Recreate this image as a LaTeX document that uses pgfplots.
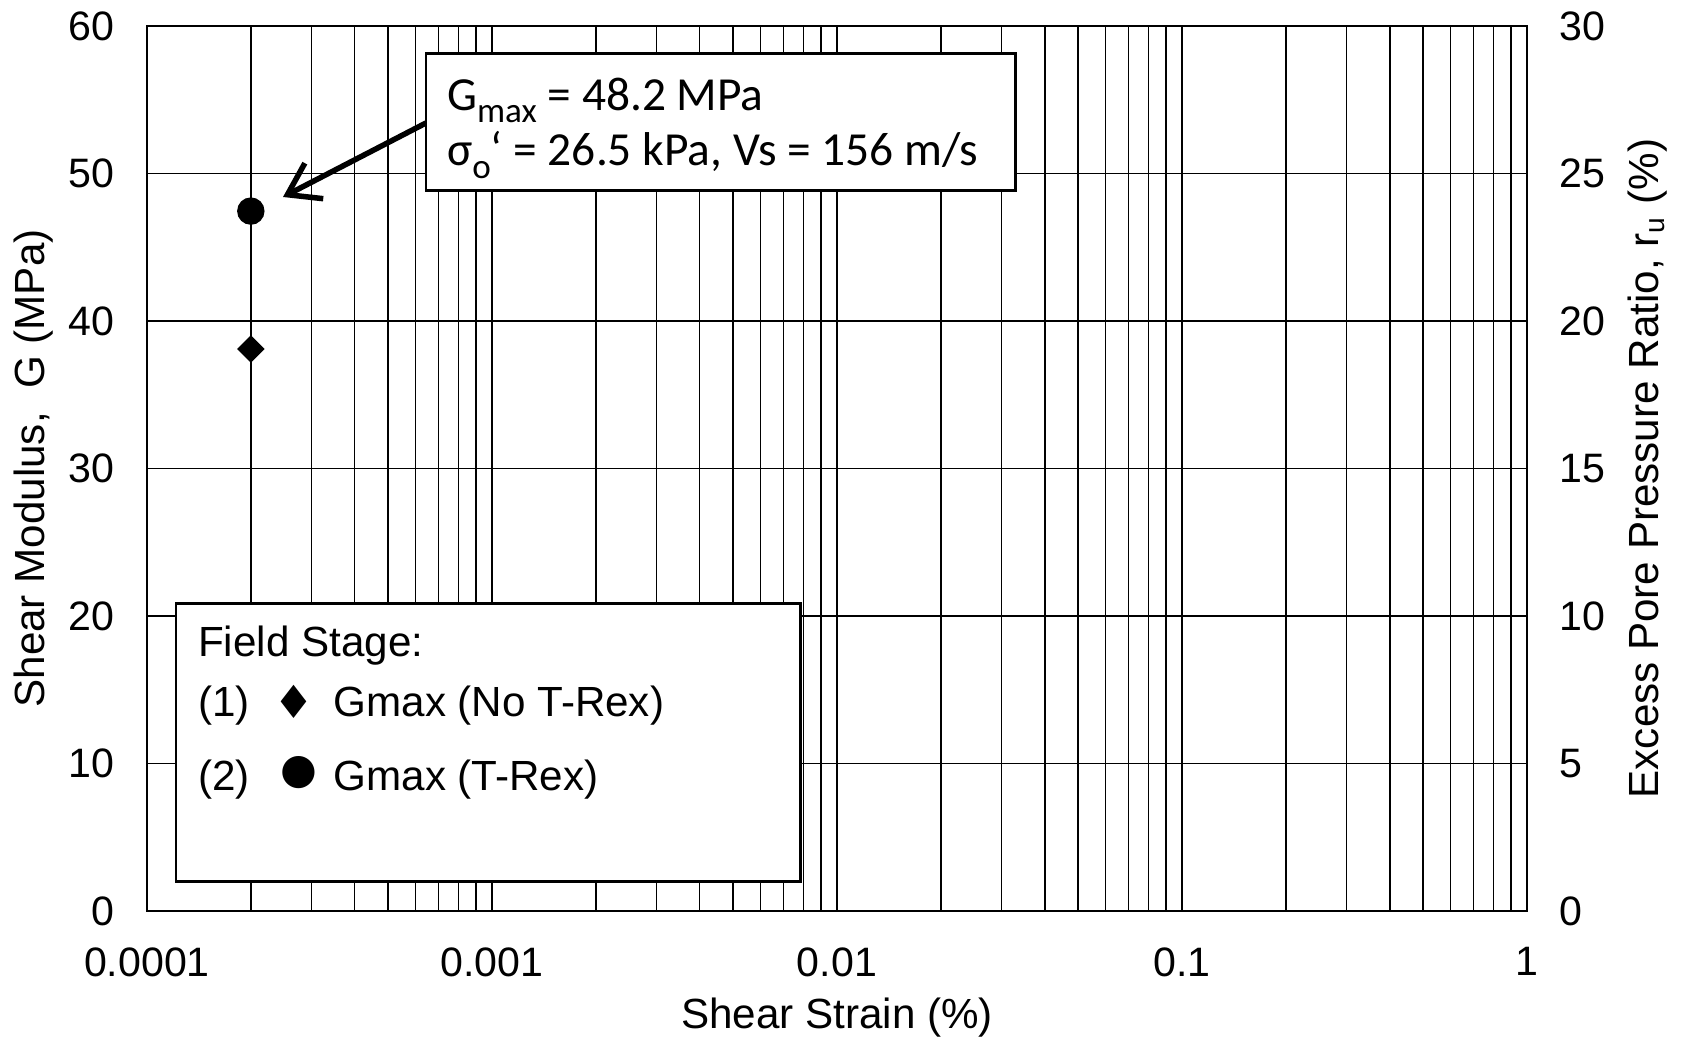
\documentclass[border=0pt]{standalone}
\usepackage{pgfplots}
\pgfplotsset{compat=1.18}
\usepackage{fontspec}
\setmainfont{Liberation Sans}
\newfontfamily\calibri{Carlito}
\newfontfamily\symfont{DejaVu Sans}
\usetikzlibrary{arrows.meta}

\begin{document}
\begin{tikzpicture}
\path[use as bounding box] (-14.7mm,-12.9mm) rectangle (153.6mm,91.1mm);
\begin{axis}[
  at={(0,0)}, anchor=south west,
  scale only axis, width=138mm, height=88.5mm,
  xmode=log, xmin=1e-4, xmax=1, ymin=0, ymax=60,
  ytick distance=10,
  xtick={0.0001,0.001,0.01,0.1,1},
  xticklabels={0.0001,0.001,0.01,0.1,1},
  grid=both,
  major grid style={black, line width=0.45pt},
  minor grid style={black, line width=0.45pt},
  tick style={draw=none},
  axis line style={black, line width=0.6pt},
  /pgf/number format/assume math mode=true,
  tick label style={font=\fontsize{11.7}{13}\selectfont},
  yticklabel style={xshift=-2mm},
  xticklabel style={yshift=-2.4mm},
  label style={font=\fontsize{12}{14}\selectfont},
  xlabel={Shear Strain (\%)},
  ylabel={Shear Modulus,\ \ G (MPa)},
  x label style={at={(axis description cs:0.5,-0.1203)}, anchor=center},
  y label style={at={(axis description cs:-0.0820,0.5)}, anchor=center},
]
\addplot[only marks, mark=square*, mark options={rotate=45, fill=black}, mark size=0.9mm] coordinates {(0.0002,38.1)};
\addplot[only marks, mark=*, mark options={fill=black}, mark size=1.3mm] coordinates {(0.0002,47.45)};
\end{axis}
\begin{axis}[
  at={(0,0)}, anchor=south west,
  scale only axis, width=138mm, height=88.5mm,
  xmode=log, xmin=1e-4, xmax=1, ymin=0, ymax=30,
  ytick distance=5,
  axis y line*=right, axis x line=none,
  tick style={draw=none},
  axis line style={black, line width=0.6pt},
  /pgf/number format/assume math mode=true,
  tick label style={font=\fontsize{11.7}{13}\selectfont},
  yticklabel style={xshift=2mm},
  label style={font=\fontsize{12}{14}\selectfont},
  ylabel={Excess Pore Pressure Ratio, r\textsubscript{u} (\%)},
  y label style={at={(axis description cs:1.0873,0.5)}, anchor=center},
]
\addplot[draw=none, forget plot] coordinates {(0.001,0)};
\end{axis}
% annotation
\draw[line width=0.55mm, -{Straight Barb[length=3mm, width=4mm, line width=0.55mm]}] (27.9mm,78.8mm) -- (13.6mm,71.4mm);
\draw[black, line width=0.85pt, fill=white] (27.9mm,72.0mm) rectangle (86.8mm,85.7mm);
\node[anchor=base west, inner sep=0pt, font=\calibri\fontsize{13.5}{15}\selectfont] at (29.95mm,80.05mm) {G\raisebox{-0.55ex}{\fontsize{10}{11}\selectfont max} = 48.2 MPa};
\node[anchor=base west, inner sep=0pt, font=\calibri\fontsize{13.5}{15}\selectfont] at (29.95mm,74.5mm) {σ\raisebox{-0.55ex}{\fontsize{10}{11}\selectfont o}‘ = 26.5 kPa, Vs = 156 m/s};
% legend box
\draw[black, line width=0.85pt, fill=white] (2.9mm,2.9mm) rectangle (65.3mm,30.7mm);
\begin{scope}[every node/.style={anchor=base west, inner sep=0pt, font=\fontsize{12}{14}\selectfont}]
\node at (5.05mm,25.4mm) {Field Stage:};
\node at (5.05mm,19.4mm) {(1)};
\node at (18.6mm,19.4mm) {Gmax (No T-Rex)};
\node at (5.05mm,12.0mm) {(2)};
\node at (18.6mm,12.0mm) {Gmax (T-Rex)};
\end{scope}
\node[anchor=center, inner sep=0pt, font=\symfont\fontsize{13}{14}\selectfont] at (14.65mm,20.95mm) {♦};
\node[anchor=center, inner sep=0pt, font=\symfont\fontsize{12}{14}\selectfont] at (15.15mm,13.8mm) {●};
\end{tikzpicture}
\end{document}
